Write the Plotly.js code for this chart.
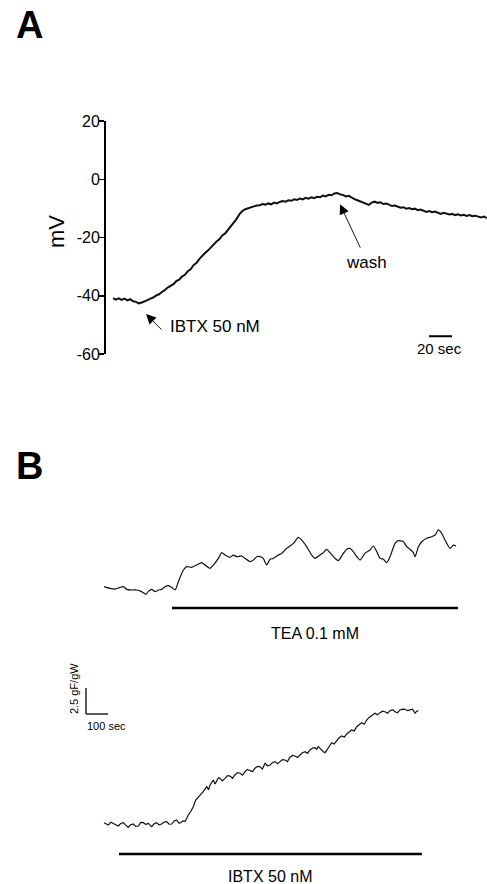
<!DOCTYPE html>
<html>
<head>
<meta charset="utf-8">
<script src="https://cdn.plot.ly/plotly-3.0.1.min.js"></script>
<style>html,body{margin:0;padding:0;background:#fff;}#chart{width:487px;height:884px;}</style>
</head>
<body>
<div id="chart"></div>
<script>
// Panel A: membrane potential (mV) vs time (sec)
const timeA = [0,2.5,5,7.5,10,12.5,15,17.5,20,22.5,25,27.5,30,32.5,35,37.5,40,42.5,45,47.5,50,52.5,55,57.5,60,62.5,65,67.5,70,72.5,75,77.5,80,82.5,85,87.5,90,92.5,95,97.5,100,102.5,105,107.5,110,112.5,115,117.5,120,122.5,125,127.5,130,132.5,135,137.5,140,142.5,145,147.5,150,152.5,155,157.5,160,162.5,165,167.5,170,172.5,175,177.5,180,182.5,185,187.5,190,192.5,195,197.5,200,202.5,205,207.5,210,212.5,215,217.5,220,222.5,225,227.5,230,232.5,235,237.5,240,242.5,245,247.5,250,252.5,255,257.5,260,262.5,265,267.5,270,272.5,275,277.5,280,282.5,285,287.5,290,292.5,295,297.5,300,302.5,305,307.5,310,312.5,315,317.5,320,322.5,325];
const mvA = [-40.8,-41.3,-40.9,-41.4,-41.0,-41.6,-41.2,-41.9,-42.1,-42.6,-42.3,-42.0,-41.5,-41.0,-40.6,-39.9,-39.5,-38.7,-38.1,-37.2,-36.6,-36.0,-35.0,-34.5,-33.4,-32.8,-31.6,-30.9,-29.5,-28.8,-27.4,-26.3,-25.3,-24.5,-23.4,-22.6,-21.4,-20.6,-19.3,-18.6,-17.3,-16.4,-15.1,-13.6,-12.0,-10.9,-10.3,-9.9,-9.6,-9.3,-9.0,-8.9,-8.5,-8.7,-8.3,-8.6,-8.0,-8.3,-7.8,-7.5,-7.7,-7.2,-7.4,-6.9,-7.1,-6.6,-6.9,-6.4,-6.7,-6.2,-6.5,-6.0,-6.2,-5.6,-5.9,-5.3,-5.5,-4.9,-4.7,-5.2,-5.4,-5.9,-5.7,-6.4,-6.8,-7.2,-7.6,-8.1,-8.4,-8.8,-8.0,-7.7,-8.1,-7.9,-8.5,-8.3,-8.7,-9.2,-9.0,-9.5,-9.8,-9.6,-10.1,-9.9,-10.3,-10.1,-10.6,-10.4,-10.8,-11.2,-10.9,-11.3,-11.1,-11.6,-11.9,-11.5,-11.8,-12.1,-11.9,-12.3,-12.0,-12.4,-12.2,-12.6,-12.3,-12.7,-12.5,-12.9,-13.1,-12.8,-13.3];
const yTicksA = [-60,-40,-20,0,20];

// Panel B, top: TEA 0.1 mM (force, gF/gW relative to baseline)
const timeTEA = [0,27,50,73,88,103,126,148,171,191,201,217,232,247,262,277,292,308,323,338,361,376,398,421,444,459,482,497,520,535,550,573,588,603,626,641,664,679,694,709,724,739,755,770,792,808,830,861,883,898,921,944,959,982,997,1012,1027,1050,1065,1088,1103,1118,1133,1149,1164,1186,1209,1224,1240,1255,1270,1285,1300,1323,1338,1361,1376,1391,1406,1414,1429,1444,1467,1489,1505,1520,1535,1550,1573,1588,1600];
const forceTEA = [0.13,-0.03,-0.1,0.06,0.13,-0.13,-0.19,-0.19,-0.35,-0.61,-0.35,-0.13,-0.35,-0.19,-0.13,0.13,0.22,0.06,-0.19,0.61,1.73,2.05,1.99,2.21,2.44,2.21,1.89,2.21,2.85,3.4,3.17,2.95,3.17,3.01,3.08,2.85,2.53,2.69,3.01,3.01,2.85,2.21,2.76,2.85,3.17,3.33,3.81,4.29,4.87,4.62,3.97,3.17,2.85,3.17,3.4,3.72,3.4,2.85,2.63,3.33,3.72,3.81,3.49,3.01,2.69,3.33,3.65,4.04,3.49,2.85,2.76,2.44,3.01,4.29,4.55,4.45,3.97,3.72,3.4,3.01,3.97,4.45,4.78,4.93,5.1,5.58,5.26,4.62,3.81,4.13,4.04];
const teaBar = [309,1609];

// Panel B, bottom: IBTX 50 nM
const timeIBTX = [0,10,20,31,42,53,65,76,88,99,110,121,133,144,156,167,179,190,201,209,217,228,239,251,262,273,285,296,308,319,330,340,349,358,368,375,383,394,406,417,429,440,451,459,467,475,482,490,497,505,512,520,527,538,550,561,573,584,595,607,618,630,641,652,664,675,686,698,709,720,732,743,755,766,777,789,800,811,823,834,845,857,868,879,891,902,914,925,936,948,959,967,974,982,989,997,1005,1012,1020,1028,1035,1046,1058,1069,1080,1092,1103,1114,1126,1137,1149,1160,1171,1183,1194,1205,1217,1225,1232,1243,1255,1266,1277,1289,1300,1311,1323,1334,1345,1357,1368,1380,1391,1402,1414,1421,1429];
const forceIBTX = [0.03,-0.1,-0.19,0.08,-0.03,-0.22,-0.29,-0.05,0.03,-0.2,-0.42,-0.18,-0.1,-0.32,-0.29,0.05,0.03,-0.15,-0.03,-0.2,-0.35,-0.08,0.03,-0.18,-0.1,0.1,0.13,-0.12,-0.1,0.2,0.29,0.0,0.03,0.2,0.13,0.4,0.77,1.1,1.57,2.2,2.53,2.75,3.01,3.3,3.49,3.2,3.65,3.9,4.13,3.75,3.97,4.35,4.29,4.05,4.29,4.55,4.52,4.3,4.62,4.85,4.78,4.6,4.93,5.15,5.03,4.95,5.26,5.45,5.41,5.2,5.74,5.5,5.58,5.8,5.9,5.7,5.9,6.1,6.06,5.9,6.32,6.5,6.44,6.3,6.54,6.75,6.86,6.7,7.02,7.2,7.24,7.1,7.34,7.15,7.02,6.85,6.76,7.0,7.34,7.5,7.72,7.6,7.98,8.2,8.37,8.25,8.56,8.75,8.94,8.85,9.26,9.45,9.65,9.5,9.9,10.15,10.29,10.45,10.55,10.4,10.61,10.75,10.7,10.55,10.8,10.9,10.7,10.6,10.87,10.95,10.93,10.8,10.87,10.95,10.55,10.75,10.8];
const ibtxBar = [68,1445];

// scale bars
const scaleA = {sec: 20, label: '20 sec'};
const scaleB = {sec: 100, force: 2.5, secLabel: '100 sec', forceLabel: '2.5 gF/gW'};

const FONT = 'Liberation Sans, Arial, Helvetica, sans-serif';
const W = 487, H = 884;
const px = v => v / W;
const py = v => 1 - v / H;

const traces = [
  {x: timeA, y: mvA, xaxis: 'x', yaxis: 'y', mode: 'lines', line: {color: '#111', width: 2}, hoverinfo: 'skip'},
  {x: timeTEA, y: forceTEA, xaxis: 'x2', yaxis: 'y2', mode: 'lines', line: {color: '#111', width: 1.2, shape: 'spline', smoothing: 0.6}, hoverinfo: 'skip'},
  {x: timeIBTX, y: forceIBTX, xaxis: 'x3', yaxis: 'y3', mode: 'lines', line: {color: '#111', width: 1.2}, hoverinfo: 'skip'}
];

const hidden = {visible: false, fixedrange: true};
const rangeBx = [-200, 1663.6];
const black = '#000';

const layout = {
  width: W, height: H,
  margin: {l: 0, r: 0, t: 0, b: 0},
  paper_bgcolor: '#fff', plot_bgcolor: '#fff',
  showlegend: false,
  font: {family: FONT, color: black},
  xaxis: Object.assign({domain: [px(106), 1], range: [-6.1, 325.2], anchor: 'y'}, hidden),
  yaxis: {domain: [py(354), py(121)], range: [-60, 20], anchor: 'x', tickvals: yTicksA, ticktext: yTicksA.map(String),
          showline: true, linewidth: 2, linecolor: black, ticks: 'outside', ticklen: 5, tickwidth: 1.5, tickcolor: black,
          ticklabelstandoff: -4,
          showgrid: false, zeroline: false, tickfont: {size: 16, family: FONT, color: black}, fixedrange: true},
  xaxis2: Object.assign({domain: [px(60), px(470)], range: rangeBx, anchor: 'y2'}, hidden),
  yaxis2: Object.assign({domain: [py(660), py(500)], range: [-6.92, 8.46], anchor: 'x2'}, hidden),
  xaxis3: Object.assign({domain: [px(60), px(470)], range: rangeBx, anchor: 'y3'}, hidden),
  yaxis3: Object.assign({domain: [py(884), py(665)], range: [-5.865, 15.19], anchor: 'x3'}, hidden),
  shapes: [
    {type: 'line', xref: 'x', yref: 'y', x0: 274.8, x1: 274.8 + scaleA.sec, y0: -53.9, y1: -53.9, line: {color: black, width: 2}},
    {type: 'line', xref: 'x2', yref: 'y2', x0: teaBar[0], x1: teaBar[1], y0: -1.92, y1: -1.92, line: {color: black, width: 2.5}},
    {type: 'line', xref: 'x3', yref: 'y3', x0: ibtxBar[0], x1: ibtxBar[1], y0: -2.98, y1: -2.98, line: {color: black, width: 2.5}},
    {type: 'line', xref: 'x3', yref: 'y3', x0: -81.8, x1: -81.8, y0: 10.48, y1: 10.48 + scaleB.force, line: {color: black, width: 1.3}},
    {type: 'line', xref: 'x3', yref: 'y3', x0: -81.8, x1: -81.8 + scaleB.sec, y0: 10.48, y1: 10.48, line: {color: black, width: 1.3}}
  ],
  annotations: [
    {xref: 'paper', yref: 'paper', x: px(29), y: py(25), text: '<b>A</b>', showarrow: false, font: {size: 38, family: FONT, color: black}, xanchor: 'center', yanchor: 'middle'},
    {xref: 'paper', yref: 'paper', x: px(29), y: py(466), text: '<b>B</b>', showarrow: false, font: {size: 38, family: FONT, color: black}, xanchor: 'center', yanchor: 'middle'},
    {xref: 'paper', yref: 'paper', x: px(57), y: py(232), text: 'mV', textangle: -90, showarrow: false, font: {size: 22, family: FONT, color: black}, xanchor: 'center', yanchor: 'middle'},
    {xref: 'x', yref: 'y', x: 28.7, y: -46.3, ax: 17, ay: 17, text: '', showarrow: true, arrowhead: 2, arrowsize: 2.2, arrowwidth: 0.9, arrowcolor: black},
    {xref: 'x', yref: 'y', x: 47.8, y: -50.4, text: 'IBTX 50 nM', showarrow: false, xanchor: 'left', yanchor: 'middle', font: {size: 17, family: FONT, color: black}},
    {xref: 'x', yref: 'y', x: 197.4, y: -8.6, ax: 21, ay: 45, text: '', showarrow: true, arrowhead: 2, arrowsize: 2.2, arrowwidth: 0.9, arrowcolor: black},
    {xref: 'x', yref: 'y', x: 220, y: -28.5, text: 'wash', showarrow: false, xanchor: 'center', yanchor: 'middle', font: {size: 17, family: FONT, color: black}},
    {xref: 'x', yref: 'y', x: 284.3, y: -58, text: scaleA.label, showarrow: false, xanchor: 'center', yanchor: 'middle', font: {size: 15, family: FONT, color: black}},
    {xref: 'x2', yref: 'y2', x: 959, y: -4.33, text: 'TEA 0.1 mM', showarrow: false, xanchor: 'center', yanchor: 'middle', font: {size: 16, family: FONT, color: black}},
    {xref: 'x3', yref: 'y3', x: 755, y: -5.1, text: 'IBTX 50 nM', showarrow: false, xanchor: 'center', yanchor: 'middle', font: {size: 16, family: FONT, color: black}},
    {xref: 'x3', yref: 'y3', x: -136, y: 12.88, text: scaleB.forceLabel, textangle: -90, showarrow: false, xanchor: 'center', yanchor: 'middle', font: {size: 11, family: FONT, color: black}},
    {xref: 'x3', yref: 'y3', x: 11.4, y: 9.33, text: scaleB.secLabel, showarrow: false, xanchor: 'center', yanchor: 'middle', font: {size: 11, family: FONT, color: black}}
  ]
};

Plotly.newPlot('chart', traces, layout, {staticPlot: true, displayModeBar: false});
</script>
</body>
</html>
